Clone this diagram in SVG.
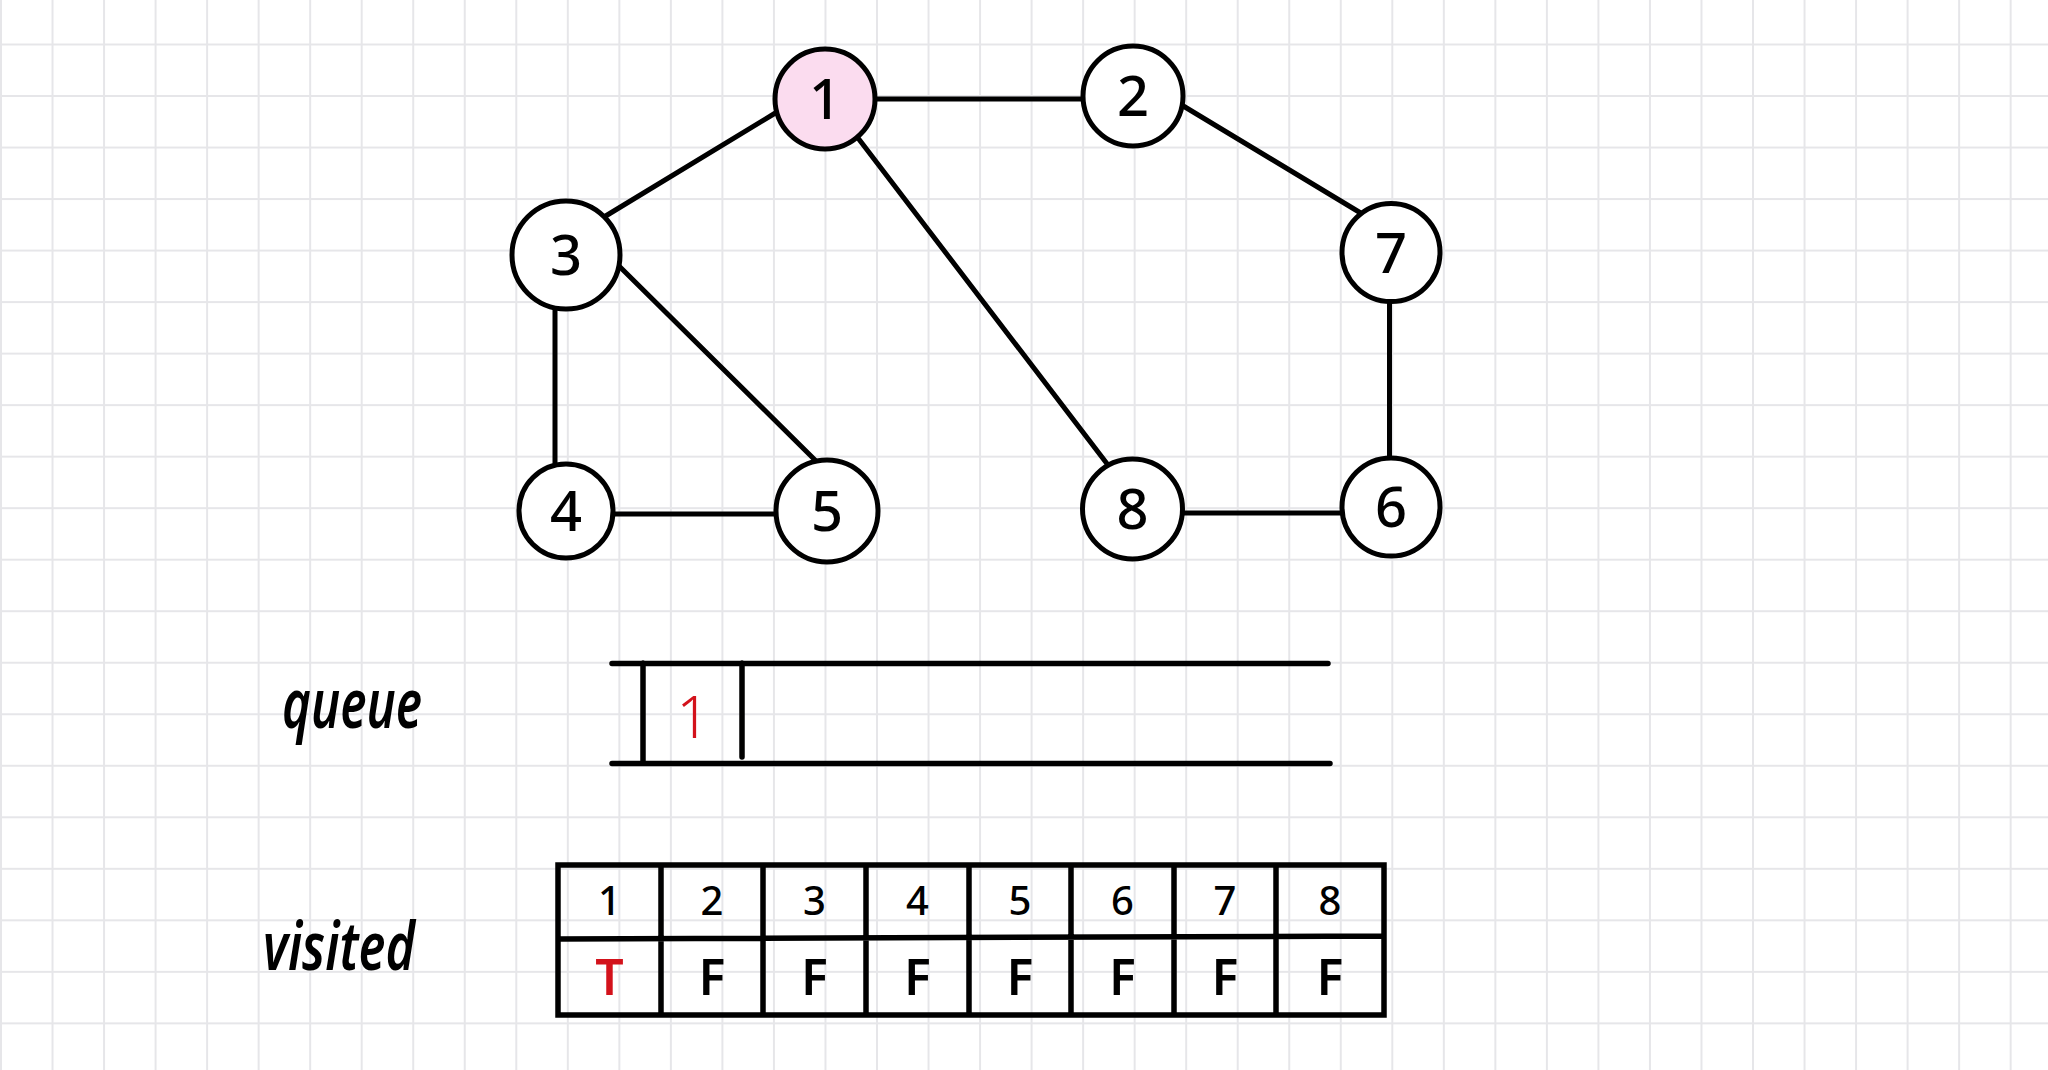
<svg xmlns="http://www.w3.org/2000/svg" width="2048" height="1070" viewBox="0 0 2048 1070">
<defs>
<pattern id="grid" patternUnits="userSpaceOnUse" x="0" y="43.5" width="51.53" height="51.52">
<path d="M1 0 V51.52 M0 1 H51.53" fill="none" stroke="#e6e6e9" stroke-width="2"/>
</pattern>
<style>
.edge{stroke:#000;stroke-width:5;fill:none;stroke-linecap:round}
.node circle{fill:#fff;stroke:#000;stroke-width:5}
.node text{font-family:"Noto Sans","DejaVu Sans",sans-serif;font-size:56px;font-weight:500;text-anchor:middle;fill:#000}
.ln{stroke:#000;stroke-width:5.5;fill:none;stroke-linecap:round}
.cell{font-family:"Noto Sans","DejaVu Sans",sans-serif;text-anchor:middle;fill:#000}
.lbl{font-family:"Noto Sans","DejaVu Sans",sans-serif;font-style:italic;font-weight:600;fill:#000}
.red{fill:#d3121b}
</style>
</defs>
<rect width="2048" height="1070" fill="#fff"/>
<rect width="2048" height="1070" fill="url(#grid)"/>

<g id="connectors">
<path class="edge" d="M870 99 L1085 99"/>
<path class="edge" d="M777 112 L604 217"/>
<path class="edge" d="M858 138 L1108 465"/>
<path class="edge" d="M1180 104 L1364 215"/>
<path class="edge" d="M555 305 L555 465"/>
<path class="edge" d="M618 265 L815 460"/>
<path class="edge" d="M610 514 L780 514"/>
<path class="edge" d="M1180 513 L1345 513"/>
<path class="edge" d="M1389.5 298 L1389.5 460"/>
</g>

<g id="node1" class="node"><circle cx="825" cy="99" r="50" style="fill:#fbdcef"/><text x="825" y="119">1</text></g>
<g id="node2" class="node"><circle cx="1133" cy="96" r="50"/><text x="1133" y="116">2</text></g>
<g id="node3" class="node"><circle cx="566" cy="255" r="54"/><text x="566" y="275">3</text></g>
<g id="node4" class="node"><circle cx="566" cy="511" r="47"/><text x="566" y="531">4</text></g>
<g id="node5" class="node"><circle cx="827" cy="511" r="51"/><text x="827" y="531">5</text></g>
<g id="node8" class="node"><circle cx="1132.5" cy="509" r="50"/><text x="1132.5" y="529">8</text></g>
<g id="node6" class="node"><circle cx="1391" cy="507" r="49"/><text x="1391" y="527">6</text></g>
<g id="node7" class="node"><circle cx="1391" cy="252.5" r="49"/><text x="1391" y="272.5">7</text></g>

<g id="queue">
<text class="lbl" x="282" y="728" font-size="68" textLength="140" lengthAdjust="spacingAndGlyphs">queue</text>
<path class="ln" d="M612 663.5 L1328 663.5 M612 763.5 L1330 763.5 M643 663 L643 763 M742 663 L742 757"/>
<text class="cell red" x="693" y="738" style="font-size:58px;font-weight:300">1</text>
</g>

<g id="visited">
<text class="lbl" x="263" y="970" font-size="66" textLength="152" lengthAdjust="spacingAndGlyphs">visited</text>
<path class="ln" d="M558 865 L1384 865 L1384 1015 L558 1015 Z M558 939 L1384 936 M661 865 L661 1015 M763 865 L763 1015 M866 865 L866 1015 M969 865 L969 1015 M1071 865 L1071 1015 M1174 865 L1174 1015 M1276 865 L1276 1015" stroke-linecap="square"/>
<g class="cell" style="font-size:40px;font-weight:500">
<text x="609.5" y="915">1</text>
<text x="712" y="915">2</text>
<text x="814.5" y="915">3</text>
<text x="917.5" y="915">4</text>
<text x="1020" y="915">5</text>
<text x="1122.5" y="915">6</text>
<text x="1225" y="915">7</text>
<text x="1330" y="915">8</text>
</g>
<g class="cell" style="font-size:50px;font-weight:600">
<text class="red" x="609.5" y="995">T</text>
<text x="712" y="995">F</text>
<text x="814.5" y="995">F</text>
<text x="917.5" y="995">F</text>
<text x="1020" y="995">F</text>
<text x="1122.5" y="995">F</text>
<text x="1225" y="995">F</text>
<text x="1330" y="995">F</text>
</g>
</g>
</svg>
